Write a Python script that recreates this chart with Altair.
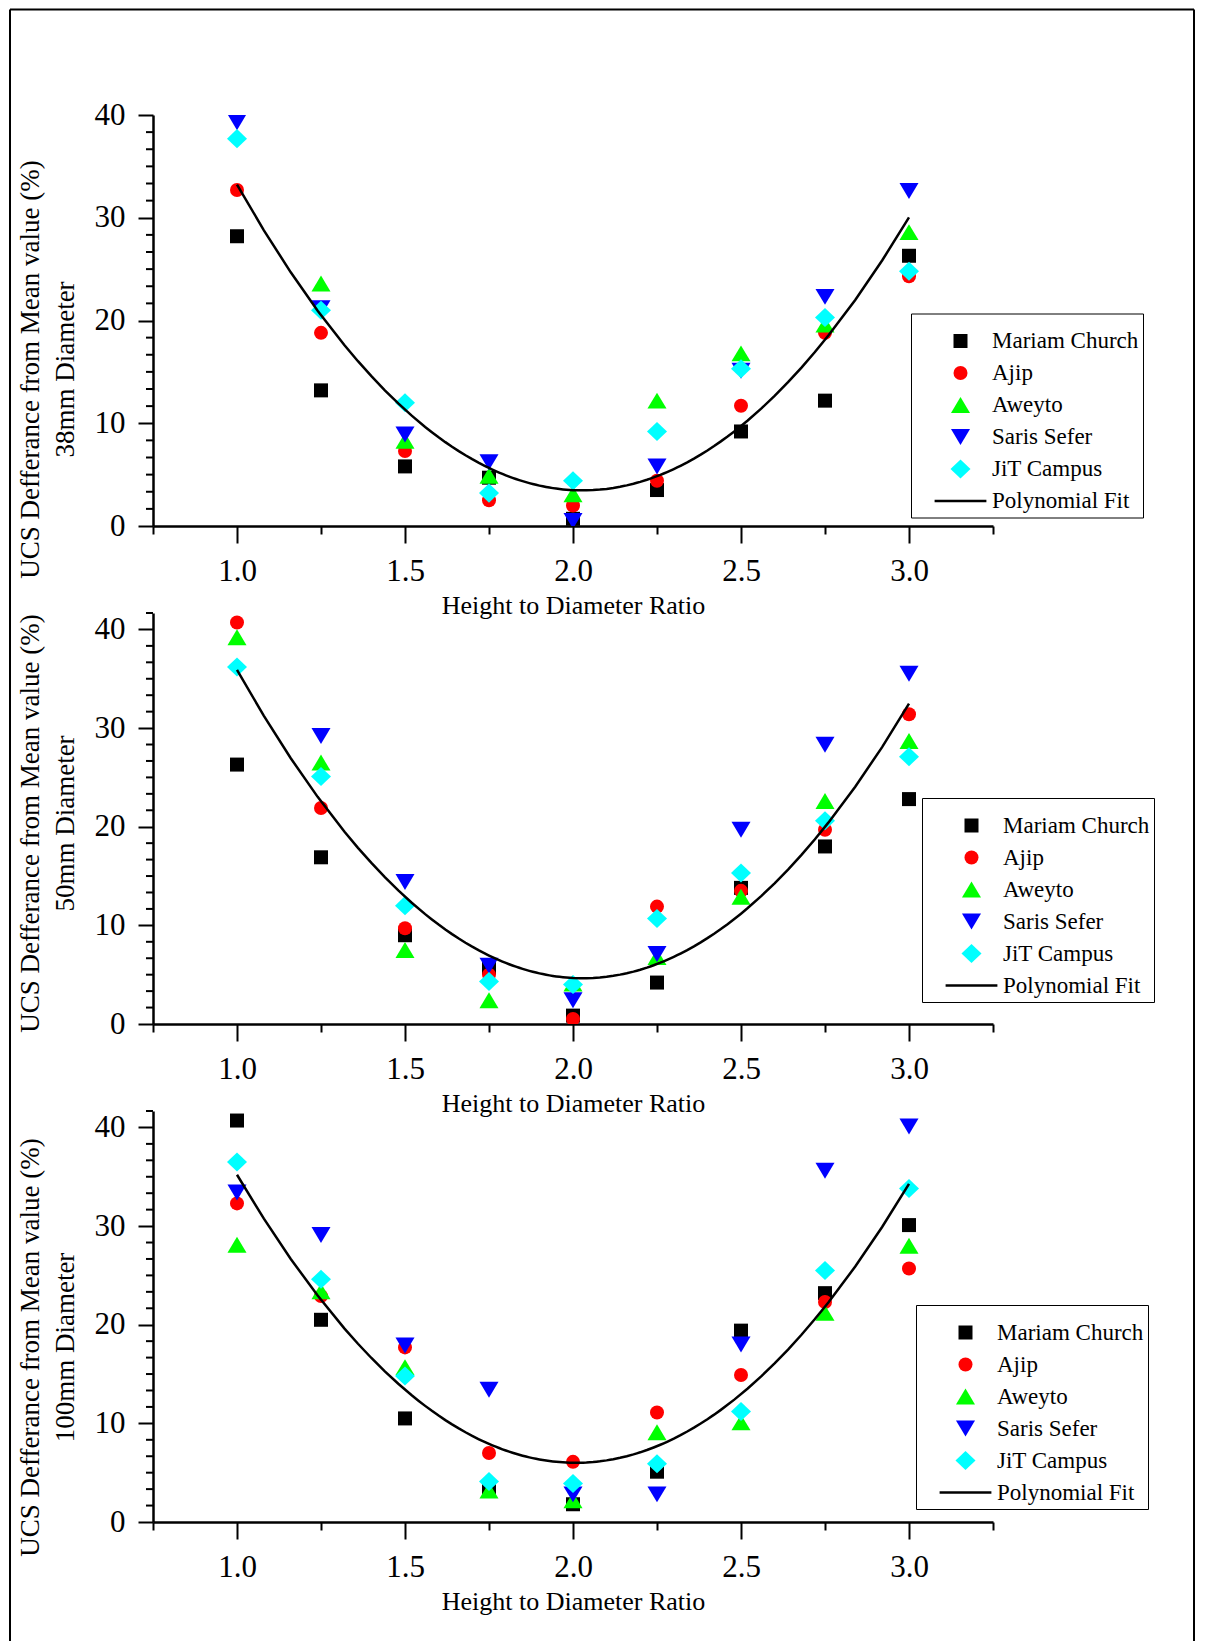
import altair as alt
import pandas as pd

# ---------------- data ----------------
ratios = [1.0, 1.25, 1.5, 1.75, 2.0, 2.25, 2.5, 2.75, 3.0]
series_names = ["Mariam Church", "Ajip", "Aweyto", "Saris Sefer", "JiT Campus"]
fit_label = "Polynomial Fit"

# 38 mm diameter
d38_mariam = [28.2, 13.2, 5.8, 4.7, 0.7, 3.5, 9.2, 12.2, 26.3]
d38_ajip = [32.7, 18.8, 7.3, 2.5, 2.0, 4.4, 11.7, 18.8, 24.3]
d38_aweyto = [41.5, 23.6, 8.3, 4.9, 3.1, 12.2, 16.8, 19.6, 28.6]
d38_saris = [39.3, 21.2, 8.9, 6.2, 0.5, 5.8, 15.1, 22.3, 32.6]
d38_jit = [37.7, 21.0, 12.0, 3.2, 4.4, 9.2, 15.3, 20.3, 24.8]

# 50 mm diameter
d50_mariam = [26.3, 16.9, 9.0, 5.7, 0.85, 4.2, 13.8, 18.0, 22.8]
d50_ajip = [40.7, 21.9, 9.7, 5.0, 0.5, 11.9, 13.5, 19.7, 31.4]
d50_aweyto = [39.2, 26.5, 7.5, 2.4, 4.1, 6.8, 12.9, 22.6, 28.7]
d50_saris = [43.2, 29.2, 14.4, 5.9, 2.4, 7.1, 19.7, 28.3, 35.5]
d50_jit = [36.2, 25.1, 12.0, 4.3, 4.0, 10.7, 15.3, 20.6, 27.1]

# 100 mm diameter
d100_mariam = [40.7, 20.5, 10.5, 3.4, 1.8, 5.1, 19.4, 23.2, 30.1]
d100_ajip = [32.3, 22.9, 17.7, 7.0, 6.1, 11.1, 14.9, 22.3, 25.7]
d100_aweyto = [28.1, 23.4, 15.7, 3.2, 2.2, 9.1, 10.1, 21.2, 28.0]
d100_saris = [33.4, 29.1, 17.9, 13.4, 2.8, 2.8, 18.0, 35.6, 40.1]
d100_jit = [36.5, 24.6, 14.8, 4.1, 3.9, 5.9, 11.2, 25.5, 33.8]

# axis tick values / labels
x_tick_values = [0.75, 1.0, 1.25, 1.5, 1.75, 2.0, 2.25, 2.5, 2.75, 3.0, 3.25]
y_major_ticks = [0, 10, 20, 30, 40]
y_minor_40 = [round(i * 10 / 6, 4) for i in range(25) if i % 6 != 0]
y_minor_42 = [round(i * 10 / 6, 4) for i in range(26) if i % 6 != 0]

panel_titles = [
    ["UCS Defferance from Mean value (%)", "38mm Diameter"],
    ["UCS Defferance from Mean value (%)", "50mm Diameter"],
    ["UCS Defferance from Mean value (%)", "100mm Diameter"],
]

# ---------------- styling ----------------
FONT = "Liberation Serif"
SQUARE = "M-1,-1L1,-1L1,1L-1,1Z"
TRI_UP = "M0,-1.14L1.36,1.14L-1.36,1.14Z"
TRI_DOWN = "M0,1.14L1.36,-1.14L-1.36,-1.14Z"
DIAMOND = "M0,-1.36L1.43,0L0,1.36L-1.43,0Z"
LINE = "M-3.7,-0.17L3.7,-0.17L3.7,0.17L-3.7,0.17Z"
shape_domain = series_names + [fit_label]
shape_range = [SQUARE, "circle", TRI_UP, TRI_DOWN, DIAMOND, LINE]
color_range = ["#000000", "#FF0000", "#00FF00", "#0000FF", "#00FFFF", "#000000"]

W = 840
H = 411
MAJOR_X = "round(datum.value*2) == datum.value*2"


def make_panel(series_values, ymax, yminor, title_lines, title_y, legend_x, legend_y, frame=False):
    rows = []
    for name, vals in zip(series_names, series_values):
        for r, v in zip(ratios, vals):
            rows.append({"ratio": r, "value": v, "series": name})
    df = pd.DataFrame(rows)

    x_axis = alt.Axis(
        values=x_tick_values,
        labelExpr=MAJOR_X + " ? format(datum.value, '.1f') : ''",
        labelOverlap=False,
        tickSize={"condition": {"test": MAJOR_X, "value": 17}, "value": 8},
        labelPadding=13,
        labelFont=FONT, labelFontSize=31, labelColor="black",
        title="Height to Diameter Ratio",
        titleFont=FONT, titleFontSize=26, titleFontWeight="normal", titleColor="black",
        titleY=79, titleBaseline="middle",
        domainColor="black", domainWidth=2.5, tickColor="black", tickWidth=2, grid=False,
    )
    y_axis = alt.Axis(
        values=y_major_ticks,
        format="d",
        labelOverlap=False,
        tickSize=15,
        labelPadding=13,
        labelFont=FONT, labelFontSize=31, labelColor="black",
        title=title_lines,
        titleFont=FONT, titleFontSize=27, titleFontWeight="normal", titleColor="black",
        titleAngle=270, titleAlign="center", titleBaseline="middle", titleLineHeight=35,
        titleX=-123, titleY=title_y,
        domainColor="black", domainWidth=2.5, tickColor="black", tickWidth=2, grid=False,
    )
    legend = alt.Legend(
        orient="none", legendX=legend_x, legendY=legend_y,
        title=" ", titleFontSize=12, titlePadding=0,
        padding=4, symbolOffset=34, labelOffset=20, rowPadding=8,
        strokeColor="black", fillColor="white",
        symbolSize=196, symbolOpacity=1, symbolStrokeWidth=0,
        labelFont=FONT, labelFontSize=23, labelColor="black", labelLimit=400,
    )
    color_enc = alt.Color(
        "series:N",
        scale=alt.Scale(domain=shape_domain, range=color_range),
        legend=legend,
    )
    shape_enc = alt.Shape(
        "series:N",
        scale=alt.Scale(domain=shape_domain, range=shape_range),
        legend=legend,
    )
    xs = alt.Scale(domain=[0.75, 3.25], nice=False, zero=False)
    ys = alt.Scale(domain=[0, ymax], nice=False, zero=False)

    points = alt.Chart(df).mark_point(
        filled=True, opacity=1, size=196, strokeWidth=0, clip=True
    ).encode(
        x=alt.X("ratio:Q", scale=xs, axis=x_axis),
        y=alt.Y("value:Q", scale=ys, axis=y_axis),
        color=color_enc,
        shape=shape_enc,
        order=alt.Order("idx:Q"),
    ).transform_window(idx="row_number()")

    fit = alt.Chart(df).transform_regression(
        "ratio", "value", method="poly", order=2
    ).transform_calculate(series="'Polynomial Fit'").mark_line(
        strokeWidth=2.5
    ).encode(
        x=alt.X("ratio:Q", scale=xs, axis=x_axis),
        y=alt.Y("value:Q", scale=ys, axis=y_axis),
        color=color_enc,
    )

    minor = alt.Chart(pd.DataFrame({"tick": yminor})).mark_rule(
        color="black", strokeWidth=2
    ).encode(
        y=alt.Y("tick:Q", scale=ys, axis=y_axis),
        x=alt.value(-7),
        x2=alt.value(0),
    )

    layers = [points, fit, minor]
    if frame:
        fdf = pd.DataFrame({"k": [0]})
        border = alt.Chart(fdf).mark_rule(color="black", strokeWidth=2)
        top_y, left_x, right_x, bottom_y = -105.5, -143, 1041, 1526
        layers += [
            border.encode(x=alt.value(left_x), x2=alt.value(right_x), y=alt.value(top_y)),
            border.encode(x=alt.value(left_x), y=alt.value(top_y), y2=alt.value(bottom_y)),
            border.encode(x=alt.value(right_x), y=alt.value(top_y), y2=alt.value(bottom_y)),
        ]
    return alt.layer(*layers).properties(width=W, height=H)


p1 = make_panel([d38_mariam, d38_ajip, d38_aweyto, d38_saris, d38_jit], 40, y_minor_40,
                panel_titles[0], 254, 758, 198.5, frame=True)
p2 = make_panel([d50_mariam, d50_ajip, d50_aweyto, d50_saris, d50_jit], 41.6667, y_minor_42,
                panel_titles[1], 210, 769, 185)
p3 = make_panel([d100_mariam, d100_ajip, d100_aweyto, d100_saris, d100_jit], 41.6667, y_minor_42,
                panel_titles[2], 236, 763, 194)

chart = alt.vconcat(p1, p2, p3, spacing=87, bounds="flush").resolve_scale(
    color="independent", shape="independent"
).properties(
    padding={"left": 0, "top": 0, "right": 0, "bottom": 0},
    background="white",
).configure_view(stroke="transparent")

chart.save("out.html", embed_options={"renderer": "svg", "actions": False})
